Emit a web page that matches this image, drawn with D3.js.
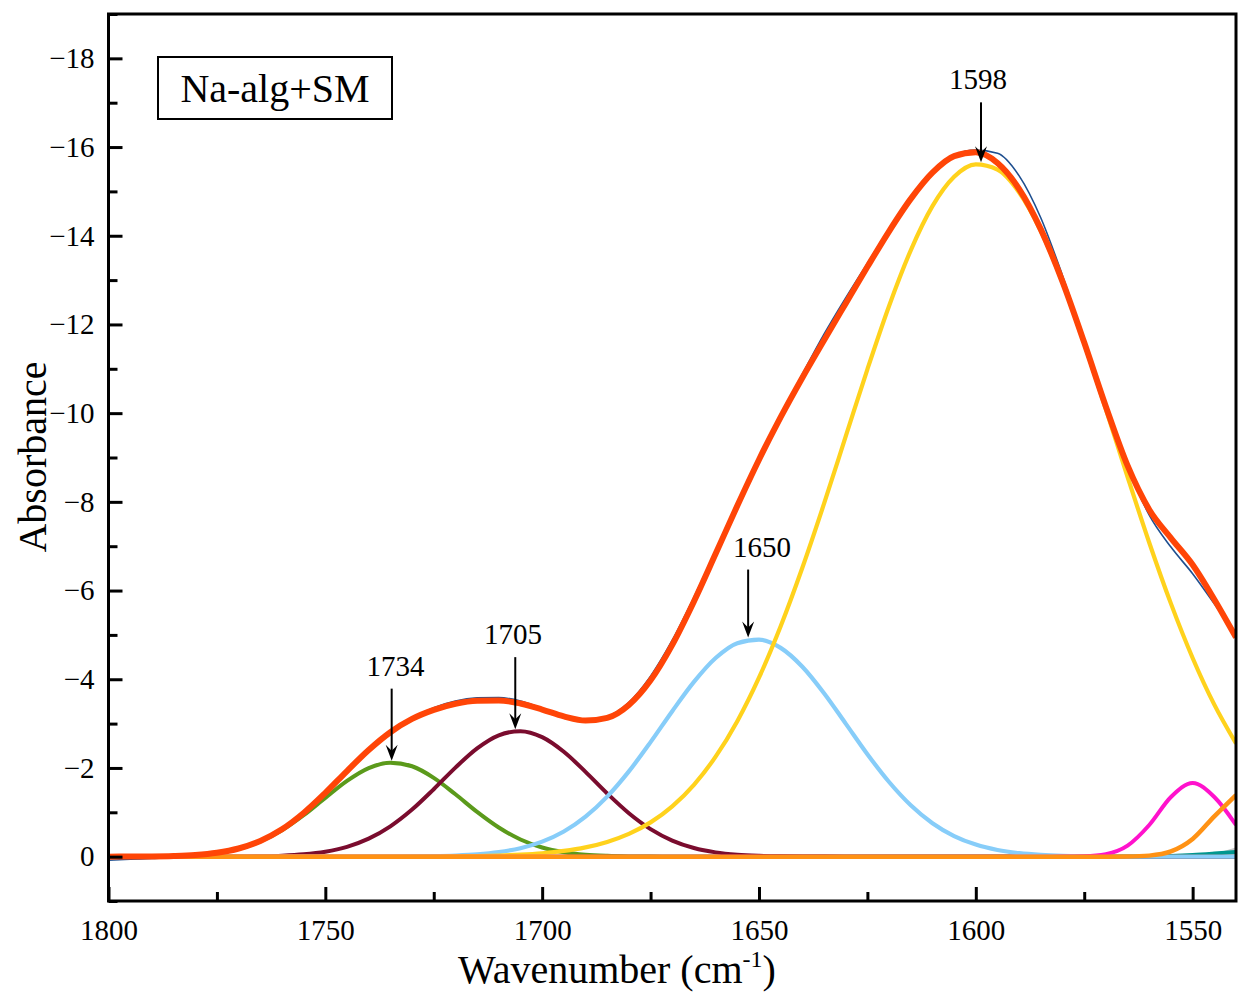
<!DOCTYPE html>
<html>
<head>
<meta charset="utf-8">
<script src="https://cdn.jsdelivr.net/npm/d3@7"></script>
<style>
  body { margin: 0; background: #fff; }
  svg { display: block; }
  text { font-family: "Liberation Serif", "Times New Roman", serif; fill: #000; }
</style>
</head>
<body>
<svg id="viz"></svg>
<script>
// ----------------------------------------------------------------------------------------------------------------
// DATA

var wavenumber = [1800, 1795, 1790, 1785, 1780, 1775, 1770, 1765, 1760, 1755, 1750, 1745, 1740, 1735, 1730, 1725,
  1720, 1715, 1710, 1705, 1700, 1695, 1690, 1685, 1680, 1675, 1670, 1665, 1660, 1655, 1650, 1645, 1640, 1635, 1630,
  1625, 1620, 1615, 1610, 1605, 1600, 1595, 1590, 1585, 1580, 1575, 1570, 1565, 1560, 1555, 1550, 1545, 1540];

// measured spectrum (thin line under the fit)
var measured = [0.08, 0.06, 0.04, 0.02, -0.03, -0.08, -0.18, -0.35, -0.61, -0.98, -1.43, -1.93, -2.41, -2.82, -3.13, -3.36,
  -3.51, -3.58, -3.59, -3.51, -3.35, -3.18, -3.08, -3.16, -3.48, -4.07, -4.88, -5.85, -6.9, -7.95, -8.97, -9.95, -10.88, -11.78, -12.6,
  -13.38, -14.14, -14.85, -15.43, -15.81, -15.93, -15.86, -15.35, -14.4, -13.1, -11.65, -10.17, -8.8, -7.7, -6.98, -6.38, -5.7, -5.0];

// cumulative fit
var fitSum = [0, -0.002, -0.005, -0.015, -0.037, -0.087, -0.184, -0.354, -0.617, -0.985, -1.438, -1.931, -2.405, -2.806, -3.105, -3.309,
  -3.447, -3.516, -3.522, -3.453, -3.317, -3.162, -3.069, -3.13, -3.421, -3.977, -4.776, -5.754, -6.828, -7.912, -8.95, -9.91, -10.8, -11.645, -12.474,
  -13.299, -14.101, -14.831, -15.422, -15.795, -15.882, -15.64, -15.053, -14.144, -12.965, -11.591, -10.145, -8.815, -7.823, -7.184, -6.583, -5.8, -4.944];

// fitted peaks
var peak1734 = [0, -0.002, -0.005, -0.015, -0.037, -0.086, -0.181, -0.345, -0.595, -0.933, -1.326, -1.709, -1.998, -2.12, -2.038, -1.777,
  -1.406, -1.009, -0.657, -0.387, -0.207, -0.101, -0.044, -0.018, -0.006, -0.002, 0, 0, 0, 0, 0, 0, 0, 0, 0,
  0, 0, 0, 0, 0, 0, 0, 0, 0, 0, 0, 0, 0, 0, 0, 0, 0, 0];

var peak1705 = [0, 0, 0, 0, 0, -0.001, -0.003, -0.009, -0.022, -0.052, -0.112, -0.222, -0.406, -0.684, -1.062, -1.521,
  -2.008, -2.442, -2.737, -2.83, -2.694, -2.364, -1.912, -1.425, -0.979, -0.62, -0.362, -0.194, -0.096, -0.044, -0.019, -0.007, -0.003, -0.001, 0,
  0, 0, 0, 0, 0, 0, 0, 0, 0, 0, 0, 0, 0, 0, 0, 0, 0, 0];

var peak1650 = [0, 0, 0, 0, 0, 0, 0, 0, 0, 0, 0, 0, -0.001, -0.002, -0.005, -0.011,
  -0.025, -0.051, -0.102, -0.191, -0.339, -0.568, -0.903, -1.354, -1.922, -2.582, -3.28, -3.94, -4.478, -4.813, -4.895, -4.708, -4.283, -3.686, -3.0,
  -2.31, -1.683, -1.159, -0.755, -0.465, -0.272, -0.15, -0.078, -0.039, -0.018, -0.008, -0.003, -0.001, 0, 0, 0, 0, 0];

var peak1598 = [0, 0, 0, 0, 0, 0, 0, 0, 0, 0, 0, 0, 0, 0, 0, 0,
  -0.008, -0.014, -0.026, -0.045, -0.077, -0.129, -0.21, -0.333, -0.514, -0.773, -1.134, -1.62, -2.254, -3.055, -4.036, -5.195, -6.514, -7.958, -9.474,
  -10.989, -12.418, -13.672, -14.667, -15.33, -15.61, -15.49, -14.975, -14.105, -12.946, -11.574, -10.084, -8.56, -7.079, -5.705, -4.48, -3.427, -2.554];

var peak1550 = [0, 0, 0, 0, 0, 0, 0, 0, 0, 0, 0, 0, 0, 0, 0, 0,
  0, 0, 0, 0, 0, 0, 0, 0, 0, 0, 0, 0, 0, 0, 0, 0, 0, 0, 0,
  0, 0, 0, 0, 0, 0, 0, 0, 0, -0.001, -0.009, -0.057, -0.249, -0.714, -1.345, -1.66, -1.345, -0.714];

var peak1537 = [0, 0, 0, 0, 0, 0, 0, 0, 0, 0, 0, 0, 0, 0, 0, 0,
  0, 0, 0, 0, 0, 0, 0, 0, 0, 0, 0, 0, 0, 0, 0, 0, 0, 0, 0,
  0, 0, 0, 0, 0, 0, 0, 0, 0, 0, 0, 0, -0.003, -0.023, -0.117, -0.398, -0.909, -1.39];

var peak1530 = [0, 0, 0, 0, 0, 0, 0, 0, 0, 0, 0, 0, 0, 0, 0, 0,
  0, 0, 0, 0, 0, 0, 0, 0, 0, 0, 0, 0, 0, 0, 0, 0, 0, 0, 0,
  0, 0, 0, 0, 0, 0, 0, 0, 0, 0, 0, 0, -0.002, -0.007, -0.017, -0.037, -0.069, -0.106];

var peak1528 = [0, 0, 0, 0, 0, 0, 0, 0, 0, 0, 0, 0, 0, 0, 0, 0,
  0, 0, 0, 0, 0, 0, 0, 0, 0, 0, 0, 0, 0, 0, 0, 0, 0, 0, 0,
  0, 0, 0, 0, 0, 0, 0, 0, 0, 0, 0, 0, 0, 0, -0.001, -0.008, -0.05, -0.18];

// peak annotations (wavenumber units)
var peakLabels = ["1734", "1705", "1650", "1598"];
var arrowAt = [1734.7, 1706.2, 1652.5, 1598.8];
var labelAt = [1733.8, 1706.7, 1649.3, 1599.5];

var xTicks = [1800, 1750, 1700, 1650, 1600, 1550];
var yTicks = [-18, -16, -14, -12, -10, -8, -6, -4, -2, 0];

var sampleName = "Na-alg+SM";


// ----------------------------------------------------------------------------------------------------------------
// INITIAL SETUP

var w = 1241;
var h = 993;
var viz = d3.select("#viz").attr("width", w).attr("height", h);

var plotL = 108.5, plotR = 1236, plotT = 14, plotB = 901;

var x = d3.scaleLinear().domain([1800, 1540]).range([plotL, plotR]);
var y = d3.scaleLinear().domain([1, -19]).range([plotB, plotT]);

viz.append("clipPath").attr("id", "plot-clip")
  .append("rect")
  .attr("x", plotL).attr("y", plotT)
  .attr("width", plotR - plotL).attr("height", plotB - plotT);


// ----------------------------------------------------------------------------------------------------------------
// CHART

function drawSeries(values, color, width) {
  var line = d3.line()
    .x(function(d, i) { return x(wavenumber[i]); })
    .y(function(d) { return y(d); })
    .curve(d3.curveMonotoneX);
  viz.append("path")
    .datum(values)
    .attr("clip-path", "url(#plot-clip)")
    .attr("fill", "none")
    .attr("stroke", color)
    .attr("stroke-width", width)
    .attr("stroke-linejoin", "round")
    .attr("d", line);
}

drawSeries(measured, "#1f4f8f", 1.6);
drawSeries(peak1528, "#c8c8c8", 2.5);
drawSeries(peak1530, "#00968f", 4);
drawSeries(peak1734, "#5b9a1b", 4);
drawSeries(peak1705, "#7a0c2e", 4);
drawSeries(peak1650, "#87cdf9", 4.2);
drawSeries(peak1598, "#ffd21c", 4.2);
drawSeries(peak1550, "#ff12cc", 4);
drawSeries(peak1537, "#ff9214", 4.5);
drawSeries(fitSum, "#ff4507", 6);


// ----------------------------------------------------------------------------------------------------------------
// AXES

var xMinor = d3.range(1775, 1540, -50);
var yMinor = d3.range(-19, 1.5, 2);

function styleAxis(g) {
  g.select(".domain").remove();
  g.selectAll("line").attr("stroke-width", 3);
  g.attr("font-family", "Liberation Serif, Times New Roman, serif").attr("font-size", 29);
}

viz.append("g")
  .attr("transform", "translate(0," + plotB + ")")
  .call(d3.axisBottom(x).tickValues(xMinor).tickSize(-9).tickFormat(""))
  .call(styleAxis);

viz.append("g")
  .attr("transform", "translate(0," + plotB + ")")
  .call(d3.axisBottom(x).tickValues(xTicks).tickSize(-14).tickPadding(18).tickFormat(d3.format("d")))
  .call(styleAxis);

viz.append("g")
  .attr("transform", "translate(" + plotL + ",0)")
  .call(d3.axisLeft(y).tickValues(yMinor).tickSize(-9).tickFormat(""))
  .call(styleAxis);

viz.append("g")
  .attr("transform", "translate(" + plotL + ",0)")
  .call(d3.axisLeft(y).tickValues(yTicks).tickSize(-14).tickPadding(14))
  .call(styleAxis);

// frame
viz.append("rect")
  .attr("x", plotL).attr("y", plotT)
  .attr("width", plotR - plotL).attr("height", plotB - plotT)
  .attr("fill", "none").attr("stroke", "#000").attr("stroke-width", 3);

// axis titles
viz.append("text")
  .attr("transform", "translate(46," + 457 + ") rotate(-90)")
  .attr("text-anchor", "middle")
  .attr("font-size", 40)
  .text("Absorbance");

var xTitle = viz.append("text")
  .attr("x", 617)
  .attr("y", 983)
  .attr("text-anchor", "middle")
  .attr("font-size", 40);
xTitle.append("tspan").text("Wavenumber (cm");
xTitle.append("tspan").attr("font-size", 24).attr("dy", -16).text("-1");
xTitle.append("tspan").attr("dy", 16).text(")");


// ----------------------------------------------------------------------------------------------------------------
// LEGEND BOX

viz.append("rect")
  .attr("x", 158).attr("y", 57).attr("width", 234).attr("height", 62)
  .attr("fill", "#fff").attr("stroke", "#000").attr("stroke-width", 2);

viz.append("text")
  .attr("x", 275).attr("y", 102)
  .attr("text-anchor", "middle")
  .attr("font-size", 40)
  .text(sampleName);


// ----------------------------------------------------------------------------------------------------------------
// PEAK ARROWS

var peakSeries = [peak1734, peak1705, peak1650, peak1598];
var arrowLen = [72, 72, 68, 60];

peakLabels.forEach(function(lbl, i) {
  var ax = x(arrowAt[i]);
  var tip = y(d3.min(peakSeries[i])) - 2;
  var start = tip - arrowLen[i];

  viz.append("line")
    .attr("x1", ax).attr("x2", ax)
    .attr("y1", start).attr("y2", tip - 6)
    .attr("stroke", "#000").attr("stroke-width", 2);

  viz.append("path")
    .attr("d", "M" + ax + "," + tip + " L" + (ax - 6) + "," + (tip - 16) +
      " L" + ax + "," + (tip - 10) + " L" + (ax + 6) + "," + (tip - 16) + " Z")
    .attr("fill", "#000");

  viz.append("text")
    .attr("x", x(labelAt[i]))
    .attr("y", start - 13)
    .attr("text-anchor", "middle")
    .attr("font-size", 29)
    .text(lbl);
});
</script>
</body>
</html>
